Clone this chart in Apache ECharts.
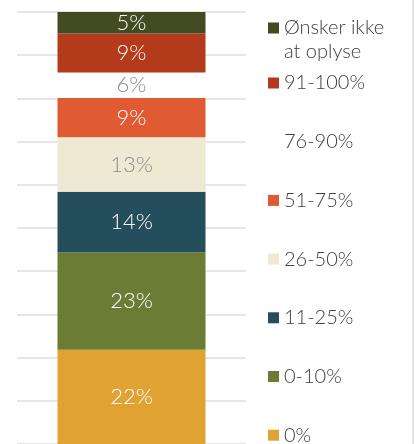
<!DOCTYPE html>
<html>
<head>
<meta charset="utf-8">
<script src="https://cdn.jsdelivr.net/npm/echarts@6/dist/echarts.min.js"></script>
<style>
html,body{margin:0;padding:0;background:#fff;}
#chart{width:415px;height:444px;}
</style>
</head>
<body>
<div id="chart"></div>
<script>
const categories = ['Andel'];
const seriesNames = ['0%', '0-10%', '11-25%', '26-50%', '51-75%', '76-90%', '91-100%', 'Ønsker ikke at oplyse'];
const seriesValues = [21.8, 22.6, 14.0, 12.6, 9.1, 5.9, 9.0, 5.0];
const yTicks = [0, 10, 20, 30, 40, 50, 60, 70, 80, 90, 100];

const palette = ['#E0A232', '#6B7D35', '#254E5C', '#EDE9D3', '#E05A33', '#FFFFFF', '#B33B1B', '#424B21'];
const labelColors = ['#fff', '#fff', '#fff', '#8c8c8c', '#fff', '#8c8c8c', '#fff', '#fff'];
const fontFam = 'Lato, "DejaVu Sans", sans-serif';

const chart = echarts.init(document.getElementById('chart'), null, {renderer: 'canvas'});

const series = seriesNames.map((name, i) => ({
  name: name,
  type: 'bar',
  stack: 'total',
  barWidth: 148,
  data: [seriesValues[i]],
  itemStyle: {color: palette[i]},
  label: {
    show: true,
    position: 'inside',
    color: labelColors[i],
    fontFamily: fontFam,
    fontWeight: 300,
    fontSize: 22,
    formatter: p => Math.round(p.value) + '%'
  },
  emphasis: {disabled: true},
  animation: false
}));

const legendBData = seriesNames.slice(0, 7).reverse();

chart.setOption({
  animation: false,
  grid: {left: 17, right: 169, top: 12, bottom: -5, containLabel: false},
  xAxis: {type: 'category', data: categories, show: false},
  yAxis: {
    type: 'value',
    min: yTicks[0],
    max: yTicks[yTicks.length - 1],
    interval: yTicks[1] - yTicks[0],
    axisLabel: {show: false},
    axisLine: {show: false},
    axisTick: {show: false},
    splitLine: {show: true, lineStyle: {color: '#e6e6e6', width: 2}}
  },
  legend: [
    {
      data: [seriesNames[7]],
      orient: 'vertical',
      left: 268,
      top: -8,
      padding: 0,
      itemWidth: 11,
      itemHeight: 11,
      icon: 'rect',
      selectedMode: false,
      formatter: () => '\nØnsker ikke\nat oplyse',
      textStyle: {color: '#404040', fontFamily: fontFam, fontWeight: 300, fontSize: 20, lineHeight: 24}
    },
    {
      data: legendBData,
      orient: 'vertical',
      left: 268,
      top: 72,
      height: 400,
      padding: 0,
      itemGap: 36.7,
      itemWidth: 11,
      itemHeight: 11,
      icon: 'rect',
      selectedMode: false,
      textStyle: {color: '#404040', fontFamily: fontFam, fontWeight: 300, fontSize: 20, lineHeight: 22}
    }
  ],
  graphic: [{
    type: 'line',
    shape: {x1: 413, y1: 0, x2: 413, y2: 444},
    style: {stroke: '#dcdcdc', lineWidth: 1.5}
  }],
  series: series
});
</script>
</body>
</html>
